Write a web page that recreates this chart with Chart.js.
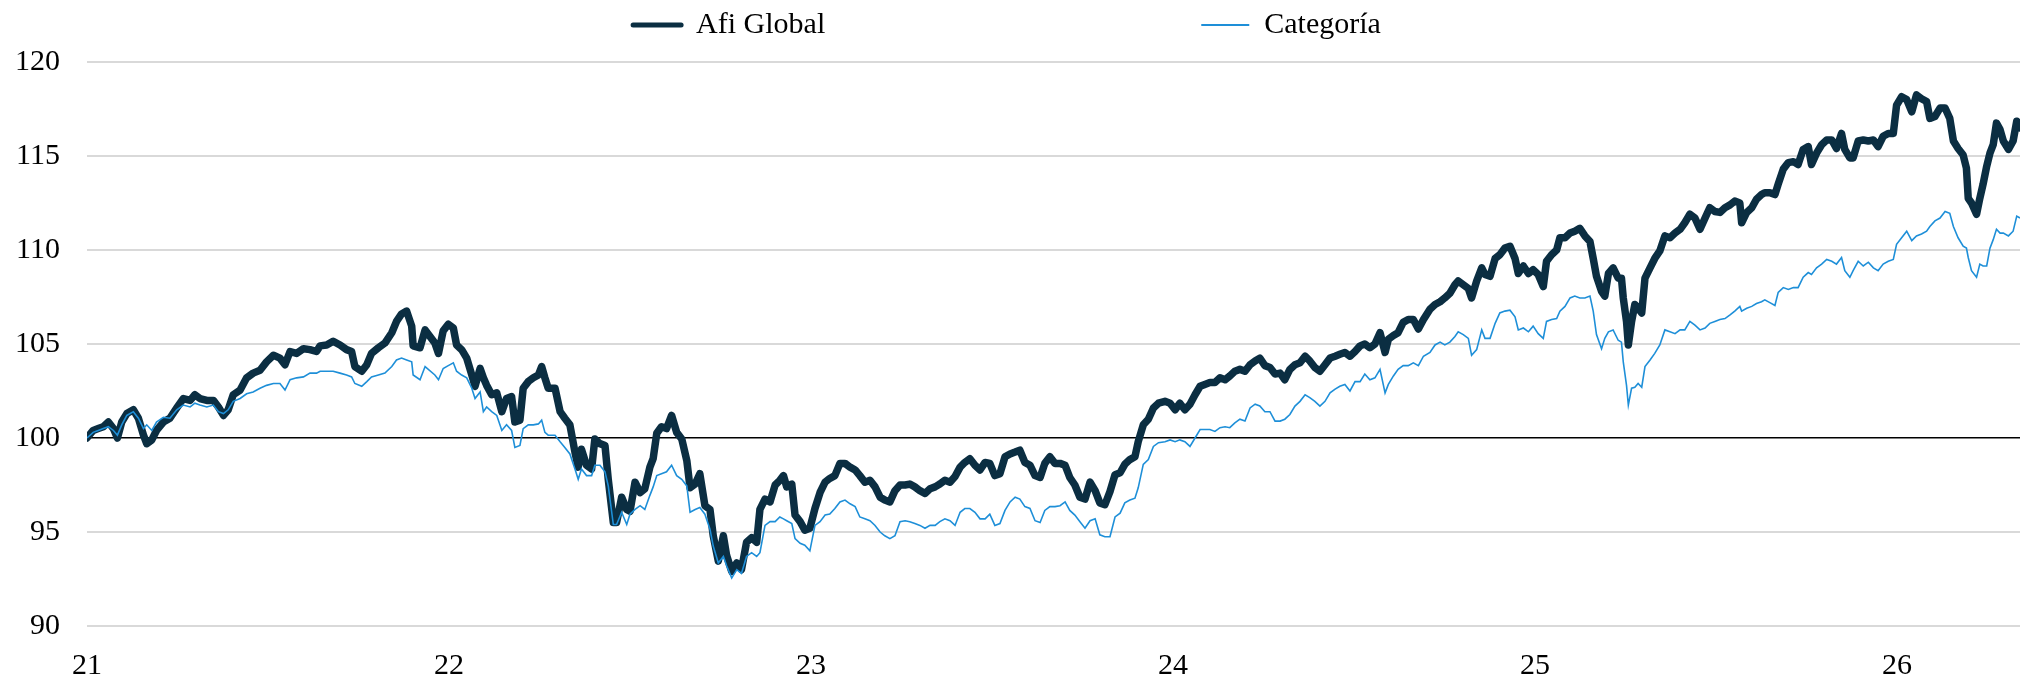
<!DOCTYPE html>
<html lang="es">
<head>
<meta charset="UTF-8">
<title>Afi Global vs Categoría</title>
<script src="https://cdn.jsdelivr.net/npm/chart.js"></script>
<style>
    html, body { margin: 0; padding: 0; background: #fff; }
    .chart-container { position: relative; width: 2020px; height: 678px; }
</style>
</head>
<body>
<div class="chart-container">
    <canvas id="chart"></canvas>
</div>

<script>
    // eje x en años (21 = inicio de 2021)
    const fechas = [
        21.000, 21.017, 21.031, 21.045, 21.059, 21.073, 21.084, 21.096, 21.110, 21.128,
        21.142, 21.156, 21.165, 21.179, 21.192, 21.211, 21.229, 21.248, 21.266, 21.285,
        21.298, 21.312, 21.331, 21.349, 21.363, 21.377, 21.390, 21.404, 21.423, 21.441,
        21.459, 21.478, 21.496, 21.515, 21.533, 21.547, 21.561, 21.579, 21.598, 21.616,
        21.634, 21.644, 21.662, 21.680, 21.699, 21.717, 21.731, 21.740, 21.759, 21.773,
        21.786, 21.805, 21.823, 21.842, 21.855, 21.869, 21.883, 21.897, 21.901, 21.920,
        21.934,
        21.961, 21.971, 21.984, 21.998, 22.012, 22.021, 22.035, 22.049, 22.063, 22.072,
        22.086, 22.095, 22.104, 22.118, 22.132, 22.146, 22.159, 22.173, 22.182, 22.196,
        22.205, 22.219, 22.233, 22.247, 22.256, 22.265, 22.274, 22.293, 22.307, 22.320,
        22.334, 22.348, 22.357, 22.366, 22.380, 22.394, 22.403, 22.417, 22.431, 22.440,
        22.454, 22.463, 22.477, 22.491, 22.500, 22.514, 22.528, 22.541, 22.555, 22.564,
        22.574, 22.587, 22.601, 22.615, 22.629, 22.643, 22.657, 22.666, 22.680, 22.693,
        22.707, 22.721, 22.730, 22.744, 22.758, 22.767, 22.781, 22.795, 22.808, 22.822,
        22.836, 22.850, 22.859,
        22.873, 22.887, 22.901, 22.914, 22.924, 22.933, 22.947, 22.956, 22.970, 22.983,
        22.997, 23.011, 23.025, 23.039, 23.052, 23.066, 23.080, 23.094, 23.108, 23.122,
        23.135, 23.149, 23.163, 23.177, 23.191, 23.204, 23.218, 23.232, 23.246, 23.260,
        23.273, 23.287, 23.301, 23.315, 23.329, 23.343, 23.356, 23.370, 23.384, 23.398,
        23.412, 23.425, 23.439, 23.453, 23.467, 23.481, 23.494, 23.508, 23.522, 23.536,
        23.550, 23.564, 23.577, 23.591, 23.605, 23.619, 23.633, 23.646, 23.660, 23.674,
        23.688, 23.702, 23.715, 23.729, 23.743, 23.757, 23.771, 23.785,
        23.798, 23.812, 23.826, 23.840, 23.854, 23.867, 23.881, 23.895, 23.904, 23.918,
        23.932, 23.946, 23.960, 23.978, 23.992, 24.006, 24.019, 24.033, 24.047, 24.061,
        24.075, 24.088, 24.102, 24.116, 24.130, 24.144, 24.157, 24.171, 24.185, 24.199,
        24.213, 24.227, 24.240, 24.254, 24.268, 24.282, 24.296, 24.309, 24.323, 24.337,
        24.351, 24.365, 24.378, 24.392, 24.406, 24.420, 24.434, 24.448, 24.461, 24.475,
        24.489, 24.503, 24.517, 24.530, 24.544, 24.558, 24.572, 24.586, 24.595, 24.609,
        24.622, 24.636, 24.650, 24.664, 24.678, 24.692, 24.710,
        24.724, 24.738, 24.751, 24.765, 24.779, 24.788, 24.802, 24.816, 24.825, 24.839,
        24.853, 24.862, 24.876, 24.890, 24.903, 24.917, 24.931, 24.945, 24.954, 24.968,
        24.982, 24.995, 25.009, 25.023, 25.032, 25.046, 25.060, 25.069, 25.083, 25.097,
        25.110, 25.124, 25.138, 25.152, 25.161, 25.170, 25.184, 25.193, 25.203, 25.216,
        25.230, 25.239, 25.244, 25.253, 25.258, 25.267, 25.276, 25.285, 25.295, 25.304,
        25.318, 25.331, 25.345, 25.359, 25.373, 25.387, 25.401, 25.414, 25.428, 25.442,
        25.456, 25.470, 25.483, 25.497, 25.511, 25.525, 25.539, 25.552, 25.566, 25.571,
        25.585, 25.599, 25.612, 25.626, 25.635,
        25.649, 25.663, 25.672, 25.686, 25.700, 25.714, 25.727, 25.741, 25.755, 25.764,
        25.778, 25.792, 25.806, 25.820, 25.833, 25.847, 25.856, 25.870, 25.879, 25.893,
        25.907, 25.921, 25.935, 25.948, 25.962, 25.976, 25.990, 25.999, 26.013, 26.027,
        26.041, 26.054, 26.068, 26.082, 26.091, 26.105, 26.119, 26.133, 26.146, 26.156,
        26.169, 26.183, 26.192, 26.197, 26.206, 26.220, 26.229, 26.238, 26.248, 26.257,
        26.266, 26.275, 26.285, 26.294, 26.308, 26.321, 26.331, 26.340
    ];

    const afiGlobal = [
        100.0, 100.4, 100.5, 100.6, 100.85, 100.5, 100.0, 100.85, 101.3, 101.5,
        101.05, 100.15, 99.7, 99.9, 100.4, 100.85, 101.05, 101.6, 102.1, 102.0,
        102.3, 102.1, 102.0, 102.0, 101.65, 101.2, 101.5, 102.3, 102.55, 103.2,
        103.45, 103.6, 104.05, 104.4, 104.25, 103.9, 104.6, 104.5, 104.75, 104.7,
        104.6, 104.9, 104.95, 105.15, 104.95, 104.7, 104.6, 103.8, 103.55, 103.9,
        104.5, 104.8, 105.05, 105.6, 106.2, 106.6, 106.75, 105.95, 104.9, 104.8,
        105.75,
        105.05, 104.5, 105.7, 106.05, 105.85, 104.95, 104.7, 104.25, 103.35, 102.75,
        103.7, 103.2, 102.8, 102.3, 102.4, 101.4, 102.1, 102.2, 100.85, 100.95,
        102.65, 103.0, 103.2, 103.35, 103.8, 103.2, 102.65, 102.65, 101.4, 101.05,
        100.7, 99.25, 98.45, 99.4, 98.55, 98.35, 99.95, 99.7, 99.6, 97.8,
        95.5, 95.5, 96.85, 96.2, 96.1, 97.65, 97.1, 97.3, 98.45, 98.9,
        100.25, 100.6, 100.5, 101.2, 100.3, 99.95, 98.8, 97.35, 97.55, 98.1,
        96.4, 96.2, 94.8, 93.45, 94.8, 93.75, 92.9, 93.35, 93.0, 94.45,
        94.7, 94.45, 96.2,
        96.75, 96.6, 97.5, 97.75, 98.0, 97.4, 97.55, 95.9, 95.55, 95.1,
        95.2, 96.25, 97.1, 97.65, 97.85, 98.0, 98.65, 98.65, 98.45, 98.3,
        98.0, 97.65, 97.75, 97.4, 96.85, 96.7, 96.6, 97.2, 97.5, 97.5,
        97.55, 97.4, 97.2, 97.05, 97.3, 97.4, 97.55, 97.75, 97.65, 97.95,
        98.45, 98.7, 98.9, 98.55, 98.3, 98.7, 98.65, 98.0, 98.1, 99.0,
        99.15, 99.25, 99.35, 98.7, 98.55, 98.0, 97.9, 98.65, 99.0, 98.65,
        98.65, 98.55, 97.9, 97.5, 96.85, 96.75, 97.65, 97.2,
        96.55, 96.45, 97.15, 98.05, 98.15, 98.6, 98.85, 99.0, 99.8, 100.7,
        101.0, 101.6, 101.85, 101.95, 101.85, 101.5, 101.85, 101.5, 101.8, 102.3,
        102.75, 102.85, 102.95, 102.95, 103.2, 103.1, 103.3, 103.55, 103.65, 103.55,
        103.9, 104.1, 104.25, 103.85, 103.75, 103.4, 103.45, 103.1, 103.65, 103.9,
        104.0, 104.35, 104.1, 103.75, 103.55, 103.9, 104.25, 104.35, 104.45, 104.55,
        104.35, 104.6, 104.9, 105.0, 104.8, 105.0, 105.6, 104.55, 105.25, 105.45,
        105.6, 106.15, 106.3, 106.3, 105.8, 106.3, 106.85,
        107.1, 107.25, 107.45, 107.7, 108.15, 108.35, 108.15, 107.95, 107.45, 108.35,
        109.05, 108.7, 108.6, 109.55, 109.75, 110.1, 110.2, 109.55, 108.75, 109.15,
        108.75, 108.95, 108.7, 108.05, 109.4, 109.75, 110.0, 110.65, 110.65, 110.9,
        111.0, 111.15, 110.75, 110.45, 109.55, 108.6, 107.8, 107.55, 108.75, 109.05,
        108.5, 108.5, 107.45, 106.2, 104.95, 106.2, 107.1, 106.9, 106.65, 108.5,
        109.05, 109.55, 109.95, 110.75, 110.65, 110.9, 111.1, 111.45, 111.9, 111.7,
        111.1, 111.7, 112.25, 112.05, 112.0, 112.25, 112.4, 112.6, 112.5, 111.45,
        112.0, 112.25, 112.7, 112.95, 113.05,
        113.05, 112.95, 113.5, 114.3, 114.65, 114.7, 114.55, 115.35, 115.5, 114.55,
        115.15, 115.6, 115.85, 115.85, 115.4, 116.2, 115.35, 114.9, 114.9, 115.8,
        115.85, 115.8, 115.85, 115.5, 116.05, 116.2, 116.2, 117.7, 118.15, 118.0,
        117.35, 118.25, 118.05, 117.9, 117.0, 117.1, 117.55, 117.55, 117.0, 115.8,
        115.4, 115.05, 114.35, 112.75, 112.5, 111.9, 112.75, 113.5, 114.45, 115.15,
        115.6, 116.75, 116.4, 115.8, 115.35, 115.8, 116.85, 116.5
    ];

    const categoria = [
        100.0, 100.3, 100.4, 100.5, 100.6, 100.4, 100.15, 100.7, 101.2, 101.4,
        101.05, 100.5, 100.7, 100.4, 100.85, 101.1, 101.05, 101.5, 101.75, 101.65,
        101.85, 101.75, 101.65, 101.75, 101.4, 101.3, 101.5, 101.95, 102.1, 102.35,
        102.45, 102.65, 102.8, 102.9, 102.9, 102.55, 103.1, 103.2, 103.25, 103.45,
        103.45, 103.55, 103.55, 103.55, 103.45, 103.35, 103.25, 102.9, 102.75, 103.0,
        103.25, 103.35, 103.45, 103.8, 104.15, 104.25, 104.15, 104.05, 103.35, 103.1,
        103.8,
        103.35, 103.1, 103.7, 103.85, 104.0, 103.55, 103.35, 103.2, 102.65, 102.1,
        102.45, 101.4, 101.65, 101.4, 101.2, 100.4, 100.7, 100.4, 99.5, 99.6,
        100.5, 100.7, 100.7, 100.75, 100.95, 100.3, 100.15, 100.15, 99.8, 99.5,
        99.15, 98.35, 97.8, 98.35, 98.0, 98.0, 98.55, 98.55, 98.2, 97.45,
        95.4, 95.4, 96.05, 95.4, 95.95, 96.2, 96.4, 96.2, 96.95, 97.4,
        98.0, 98.1, 98.2, 98.55, 98.0, 97.8, 97.45, 96.05, 96.2, 96.3,
        95.95, 95.15, 94.25, 93.35, 93.7, 93.2, 92.55, 93.0, 92.8, 93.7,
        93.9, 93.7, 93.9,
        95.35, 95.55, 95.55, 95.8, 95.7, 95.6, 95.45, 94.65, 94.4, 94.3,
        94.0, 95.35, 95.55, 95.9, 95.95, 96.25, 96.6, 96.7, 96.5, 96.35,
        95.8, 95.7, 95.6, 95.35, 95.0, 94.8, 94.65, 94.8, 95.55, 95.6,
        95.55, 95.45, 95.35, 95.2, 95.35, 95.35, 95.55, 95.7, 95.6, 95.35,
        96.05, 96.25, 96.25, 96.05, 95.7, 95.7, 95.95, 95.35, 95.45, 96.15,
        96.6, 96.85, 96.75, 96.35, 96.25, 95.6, 95.5, 96.15, 96.35, 96.35,
        96.4, 96.6, 96.15, 95.9, 95.55, 95.2, 95.6, 95.7,
        94.85, 94.75, 94.75, 95.8, 96.0, 96.55, 96.7, 96.8, 97.35, 98.6,
        98.85, 99.55, 99.75, 99.8, 99.9, 99.8, 99.9, 99.8, 99.55, 100.0,
        100.45, 100.45, 100.45, 100.35, 100.55, 100.6, 100.55, 100.8, 101.0, 100.9,
        101.6, 101.8, 101.7, 101.4, 101.4, 100.9, 100.9, 101.0, 101.25, 101.7,
        101.95, 102.3, 102.15, 101.95, 101.7, 101.95, 102.4, 102.6, 102.75, 102.85,
        102.5, 103.0, 103.0, 103.4, 103.1, 103.2, 103.65, 102.4, 102.85, 103.3,
        103.65, 103.85, 103.85, 104.0, 103.85, 104.35, 104.55,
        104.95, 105.1, 104.95, 105.1, 105.4, 105.65, 105.5, 105.3, 104.4, 104.7,
        105.75, 105.3, 105.3, 106.1, 106.65, 106.75, 106.8, 106.45, 105.75, 105.85,
        105.65, 105.95, 105.55, 105.3, 106.2, 106.3, 106.35, 106.75, 107.0, 107.45,
        107.55, 107.45, 107.45, 107.55, 106.75, 105.5, 104.75, 105.3, 105.65, 105.75,
        105.2, 105.1, 104.05, 102.8, 101.75, 102.65, 102.7, 102.9, 102.7, 103.8,
        104.15, 104.5, 104.95, 105.75, 105.65, 105.55, 105.75, 105.75, 106.2, 106.0,
        105.75, 105.85, 106.1, 106.2, 106.3, 106.35, 106.55, 106.75, 107.0, 106.75,
        106.9, 107.0, 107.15, 107.25, 107.35,
        107.2, 107.05, 107.75, 108.0, 107.9, 108.0, 108.0, 108.55, 108.8, 108.7,
        109.05, 109.25, 109.5, 109.4, 109.25, 109.6, 108.9, 108.55, 108.9, 109.4,
        109.15, 109.35, 109.05, 108.9, 109.25, 109.4, 109.5, 110.3, 110.65, 111.0,
        110.5, 110.75, 110.85, 111.0, 111.25, 111.55, 111.7, 112.05, 111.95, 111.25,
        110.65, 110.2, 110.1, 109.6, 108.9, 108.55, 109.25, 109.15, 109.15, 110.1,
        110.55, 111.1, 110.9, 110.9, 110.75, 111.0, 111.8, 111.7
    ];

    const anios = [21, 22, 23, 24, 25, 26];
    const ejeY = [90, 95, 100, 105, 110, 115, 120];

    Chart.defaults.font.family = '"Liberation Serif", "Times New Roman", serif';
    Chart.defaults.color = '#000';

    const ctx = document.getElementById('chart').getContext('2d');
    const chart = new Chart(ctx, {
        type: 'line',
        data: {
            datasets: [{
                label: 'Afi Global',
                data: fechas.map((x, i) => ({ x: x, y: afiGlobal[i] })),
                borderColor: '#0b2e42',
                borderWidth: 7.5,
                borderJoinStyle: 'round',
                borderCapStyle: 'round',
                pointRadius: 0,
                tension: 0,
                order: 1
            }, {
                label: 'Categoría',
                data: fechas.map((x, i) => ({ x: x, y: categoria[i] })),
                borderColor: '#1e8fd8',
                borderWidth: 1.6,
                pointRadius: 0,
                tension: 0,
                order: 0
            }]
        },
        options: {
            responsive: true,
            maintainAspectRatio: false,
            animation: false,
            layout: { padding: { left: 15, top: 0, right: 0, bottom: 0 } },
            plugins: {
                legend: {
                    position: 'top',
                    labels: {
                        usePointStyle: true,
                        pointStyleWidth: 48,
                        padding: 10,
                        font: { size: 30 },
                        color: '#000',
                        // espacios al final para separar las dos entradas como en el original
                        generateLabels: chart => chart.data.datasets.map((ds, i) => ({
                            text: ds.label + (i === 0 ? '\u2003'.repeat(12) + '\u2009' : '\u2002\u2009'),
                            strokeStyle: ds.borderColor,
                            fillStyle: ds.borderColor,
                            lineWidth: i === 0 ? 5 : 2,
                            lineCap: i === 0 ? 'round' : 'butt',
                            pointStyle: 'line',
                            hidden: false,
                            datasetIndex: i
                        }))
                    }
                },
                // hueco entre leyenda y gráfico
                subtitle: { display: true, text: '', weight: 500, padding: 0, font: { size: 10 } },
                tooltip: { enabled: false }
            },
            scales: {
                x: {
                    type: 'linear',
                    min: 21,
                    max: 26.34,
                    afterBuildTicks: axis => { axis.ticks = anios.map(v => ({ value: v })); },
                    afterFit: axis => { axis.height = 52; },
                    grid: { display: false, drawTicks: false },
                    border: { display: false },
                    ticks: {
                        padding: 28,
                        maxRotation: 0,
                        autoSkip: false,
                        font: { size: 30, lineHeight: 0.8 },
                        callback: v => String(v)
                    }
                },
                y: {
                    min: 90,
                    max: 120,
                    afterBuildTicks: axis => { axis.ticks = ejeY.map(v => ({ value: v })); },
                    afterFit: axis => { axis.width = 72; },
                    border: { display: false },
                    grid: {
                        drawTicks: false,
                        color: c => (c.tick && c.tick.value === 100) ? '#000' : '#d9d9d9',
                        lineWidth: c => (c.tick && c.tick.value === 100) ? 1.5 : 2
                    },
                    ticks: {
                        padding: 27,
                        font: { size: 30, lineHeight: 0.8 }
                    }
                }
            }
        }
    });
</script>
</body>
</html>
